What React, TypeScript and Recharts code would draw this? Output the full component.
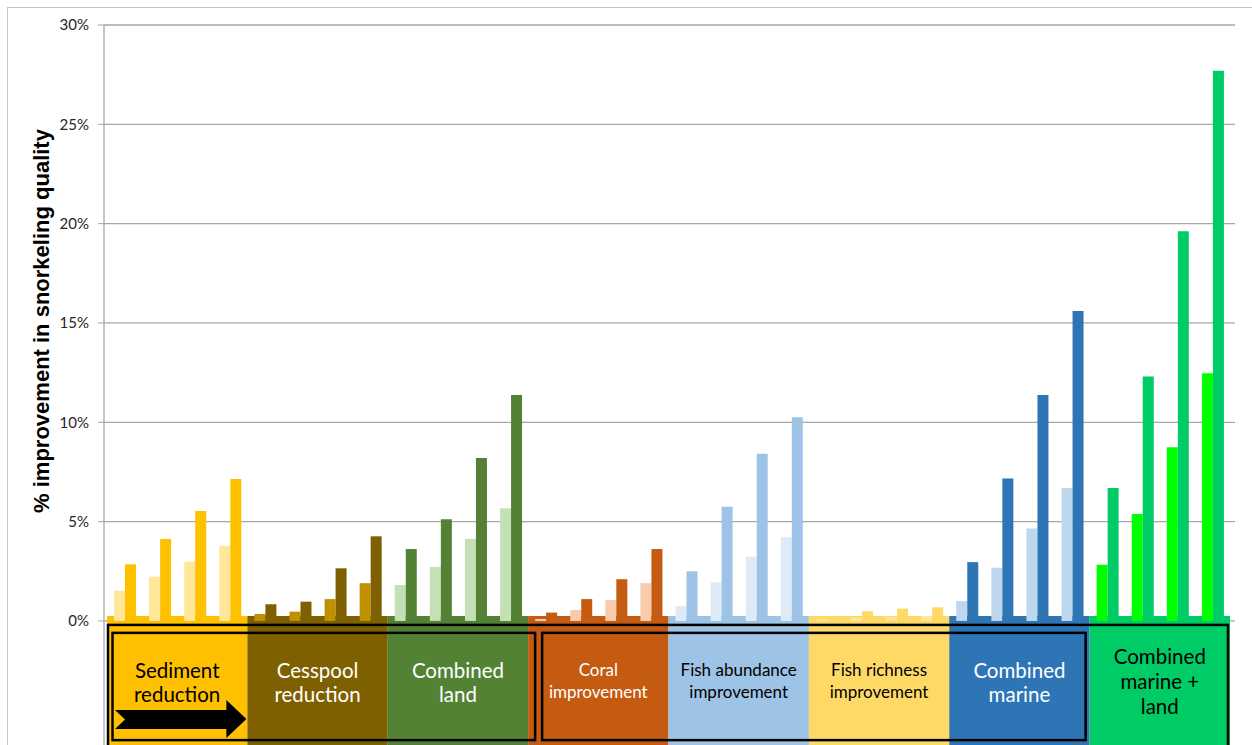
import { BarChart, Bar, Cell, XAxis, YAxis, CartesianGrid, ReferenceArea, Label } from "recharts";

// one entry per box under the axis
const groupKeys = ["sed", "cess", "land", "coral", "fishAb", "fishRich", "marine", "marineLand"];
const groupLines = [
  ["Sediment", "reduction"],
  ["Cesspool", "reduction"],
  ["Combined", "land"],
  ["Coral", "improvement"],
  ["Fish abundance", "improvement"],
  ["Fish richness", "improvement"],
  ["Combined", "marine"],
  ["Combined", "marine +", "land"],
];
const groupFills = ["#FFC000", "#7F6000", "#548235", "#C55A11", "#9DC3E6", "#FFD966", "#2E75B6", "#00CC66"];
const lightFills = ["#FFE699", "#BF9000", "#C5E0B4", "#F8CBAD", "#DEEBF7", "#FFE699", "#BDD7EE", "#00FF00"];
const textFills = ["#000", "#fff", "#fff", "#fff", "#000", "#000", "#fff", "#000"];
const labelSizes = [20.5, 20.5, 20.5, 17, 17, 17, 20.5, 20.5];
const scenarios = ["1", "2", "3", "4"];

// % improvement, 4 scenarios per group
const lightValues = [
  1.52, 2.23, 2.98, 3.77,
  0.35, 0.47, 1.1, 1.9,
  1.81, 2.72, 4.13, 5.67,
  0.1, 0.55, 1.05, 1.9,
  0.75, 1.95, 3.24, 4.21,
  0.1, 0.15, 0.2, 0.25,
  1.0, 2.68, 4.66, 6.69,
  2.83, 5.38, 8.74, 12.47,
];
const darkValues = [
  2.85, 4.13, 5.54, 7.15,
  0.84, 0.97, 2.65, 4.26,
  3.62, 5.12, 8.2, 11.37,
  0.42, 1.1, 2.1, 3.62,
  2.5, 5.75, 8.42, 10.25,
  0.15, 0.49, 0.62, 0.69,
  2.96, 7.17, 11.38, 15.6,
  6.69, 12.31, 19.62, 27.7,
];

const yTicks = [0, 5, 10, 15, 20, 25, 30];

const categories = groupKeys.flatMap((g) => scenarios.map((s) => `${g}-${s}`));
const data = categories.map((cat, i) => ({
  cat,
  group: Math.floor(i / 4),
  light: lightValues[i],
  dark: darkValues[i],
}));

const FONT = "Lato, 'Open Sans', sans-serif";

function GroupBox(props: any, g: number) {
  const { x, y, width, height } = props;
  const lines = groupLines[g];
  const size = labelSizes[g];
  const step = lines.length === 3 ? 25 : size < 18 ? 22 : 24;
  const first = lines.length === 3 ? 40 : 54;
  const cx = x + width / 2;
  return (
    <g>
      <rect x={x} y={y} width={width} height={height} fill={groupFills[g]} />
      {lines.map((t, k) => (
        <text
          key={k}
          x={cx}
          y={y + first + k * step}
          textAnchor="middle"
          dominantBaseline="central"
          fill={textFills[g]}
          fontSize={size}
          fontFamily={FONT}
        >
          {t}
        </text>
      ))}
      {g === 0 && (
        <polygon
          fill="#000"
          points={[
            [x + 8, y + 94],
            [x + width - 21, y + 94],
            [x + width - 21, y + 84],
            [x + width - 1, y + 103],
            [x + width - 21, y + 122],
            [x + width - 21, y + 113],
            [x + 8, y + 113],
            [x + 18, y + 103.5],
          ]
            .map((p) => p.join(","))
            .join(" ")}
        />
      )}
    </g>
  );
}

function outline(dx1: number, dx2: number) {
  return (props: any) => (
    <rect
      x={props.x + dx1}
      y={props.y}
      width={props.width - dx1 + dx2}
      height={props.height}
      fill="none"
      stroke="#000"
      strokeWidth={2.5}
    />
  );
}

export default function App() {
  return (
    <div
      style={{
        position: "fixed",
        left: 7,
        top: 7,
        width: 1245,
        height: 738,
        overflow: "hidden",
        borderLeft: "1px solid #c4c4c4",
        borderTop: "1px solid #c4c4c4",
        background: "#fff",
      }}
    >
      <BarChart
        width={1244}
        height={752}
        data={data}
        margin={{ top: 17, right: 17, left: 0, bottom: 0 }}
        barCategoryGap="20%"
        barGap={0}
      >
        <CartesianGrid vertical={false} stroke="#a6a6a6" strokeWidth={1.3} />
        <XAxis dataKey="cat" hide padding={{ left: 3, right: 5 }} />
        <YAxis
          type="number"
          domain={[-7, 30]}
          ticks={yTicks}
          interval={0}
          width={96}
          tickFormatter={(v: number) => `${v}%`}
          tick={{ fill: "#262626", fontSize: 15, fontFamily: FONT }}
          axisLine={{ stroke: "#a6a6a6", strokeWidth: 1.3 }}
          tickLine={{ stroke: "#a6a6a6" }}
          tickSize={6}
          tickMargin={9}
        >
          <Label
            content={(p: any) => (
              <text
                x={33}
                y={p.viewBox.y + 296}
                transform={`rotate(-90, 33, ${p.viewBox.y + 296})`}
                textAnchor="middle"
                dominantBaseline="central"
                fontFamily="'Liberation Sans', Arial, sans-serif"
                fontWeight="bold"
                fontSize={22}
                fill="#000"
              >
                % improvement in snorkeling quality
              </text>
            )}
          />
        </YAxis>
        <Bar dataKey="light" isAnimationActive={false}>
          {data.map((d) => (
            <Cell key={d.cat} fill={lightFills[d.group]} />
          ))}
        </Bar>
        <Bar dataKey="dark" isAnimationActive={false}>
          {data.map((d) => (
            <Cell key={d.cat} fill={groupFills[d.group]} />
          ))}
        </Bar>
        {groupKeys.map((g, i) => (
          <ReferenceArea
            key={g}
            x1={categories[i * 4]}
            x2={categories[i * 4 + 3]}
            y1={-7}
            y2={0.25}
            shape={(p: any) => GroupBox(p, i)}
          />
        ))}
        <ReferenceArea x1={categories[0]} x2={categories[31]} y1={-7} y2={-0.2} shape={outline(1, -2)} />
        <ReferenceArea x1={categories[0]} x2={categories[11]} y1={-6} y2={-0.6} shape={outline(5.5, 7)} />
        <ReferenceArea x1={categories[12]} x2={categories[27]} y1={-6} y2={-0.6} shape={outline(14, -4)} />
      </BarChart>
    </div>
  );
}
